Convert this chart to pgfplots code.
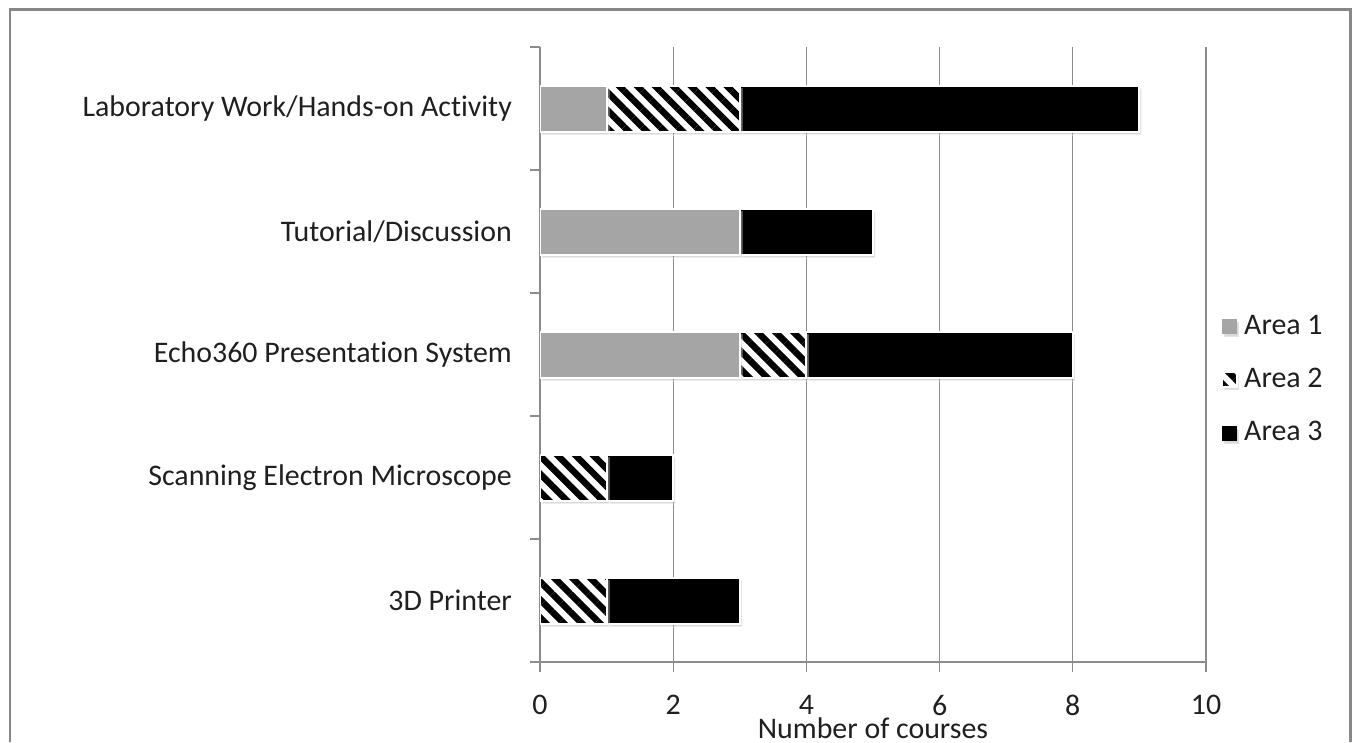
\documentclass[border=0pt]{standalone}
\usepackage{fontspec}
\setmainfont{Carlito}[Ligatures={NoCommon}]
\usepackage{pgfplots}
\pgfplotsset{compat=1.18}
\usetikzlibrary{patterns.meta,shadows}
\definecolor{areaone}{RGB}{165,165,165}
\definecolor{gridgray}{RGB}{140,140,140}
\definecolor{framegray}{RGB}{135,135,135}
\pgfplotstableread{
idx a1 a2 a3
0 0 1 2
1 0 1 1
2 3 1 4
3 3 0 2
4 1 2 6
}\datatable
\begin{document}
\fontsize{30}{36}\selectfont
\begin{tikzpicture}[x=1bp,y=1bp]
\useasboundingbox (0,0) rectangle (1353,-742);
\draw[framegray, line width=2.5bp] (10,-742) -- (10,-9.5) -- (1350.5,-9.5) -- (1350.5,-742);
\begin{axis}[
  at={(540bp,-662bp)}, anchor=south west,
  scale only axis, width=666bp, height=615bp,
  xbar stacked, bar width=0.374,
  xmin=0, xmax=10, ymin=-0.5, ymax=4.5,
  xtick={0,2,...,10},
  ytick={-0.5,0.5,...,4.5},
  y tick label as interval,
  yticklabels={3D Printer, Scanning Electron Microscope, Echo360 Presentation System, Tutorial/Discussion, Laboratory Work/Hands-on Activity},
  axis x line*=bottom, axis y line*=left,
  axis line style={gridgray, line width=1.3bp},
  every tick/.style={gridgray, line width=1.3bp},
  tick align=outside,
  major tick length=10bp,
  xmajorgrids, ymajorgrids=false,
  grid style={gridgray, line width=1.3bp},
  /pgf/number format/assume math mode=true,
  tick label style={font=\fontsize{30}{36}\selectfont, text=black!88},
  yticklabel style={xshift=-8bp},
  xticklabel style={inner sep=0pt, text depth=0pt, yshift=-23bp},
  xlabel={Number of courses},
  xlabel style={font=\fontsize{30}{36}\selectfont, text=black!88, inner sep=0pt, text depth=0pt, yshift=-2bp},
  legend style={draw=none, fill=none, at={(1.018,0.4585)}, anchor=west,
    font=\fontsize{30}{36}\selectfont, text=black!88, row sep=25.5bp,
    legend cell align=left, /tikz/every odd column/.append style={column sep=4bp}},
  legend image code/.code={\path[#1, draw=none] (0bp,-7.5bp) rectangle (15bp,7.5bp);},
]
\addplot+[fill=areaone, draw=white, line width=2bp,
  drop shadow={shadow xshift=2bp, shadow yshift=-3bp, opacity=0.3}] table[x=a1, y=idx] {\datatable};
\addplot+[fill=white, draw=white, line width=2bp,
  drop shadow={shadow xshift=2bp, shadow yshift=-3bp, opacity=0.3},
  postaction={pattern={Lines[angle=-45, distance=12.7bp, line width=6.5bp]}, pattern color=black}] table[x=a2, y=idx] {\datatable};
\addplot+[fill=black, draw=white, line width=2bp,
  drop shadow={shadow xshift=2bp, shadow yshift=-3bp, opacity=0.3}] table[x=a3, y=idx] {\datatable};
\legend{Area 1, Area 2, Area 3}
\end{axis}
\end{tikzpicture}
\end{document}
